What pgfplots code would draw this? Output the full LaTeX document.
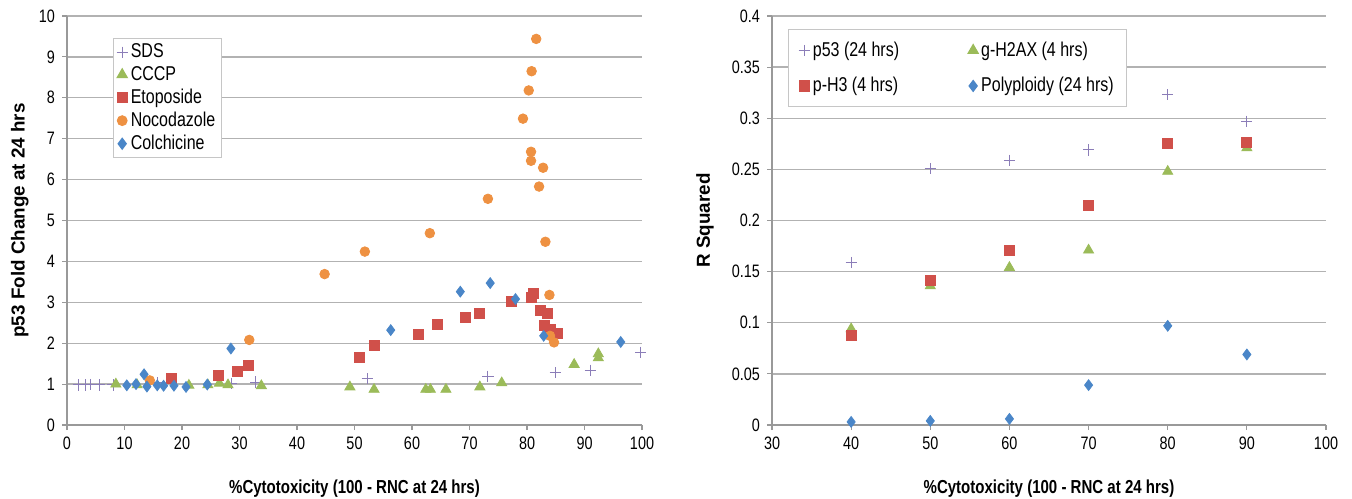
\documentclass[border=0pt]{standalone}
\usepackage{fontspec}
\setmainfont[FakeStretch=0.8]{Liberation Sans}
\newfontfamily\upfont{Liberation Sans}
\usepackage{pgfplots}
\pgfplotsset{compat=1.18}

\definecolor{sdsc}{HTML}{8B7DB8}
\definecolor{cccpc}{HTML}{9BBB59}
\definecolor{etoc}{HTML}{D0504A}
\definecolor{nococ}{HTML}{EE9142}
\definecolor{colchc}{HTML}{4A86C8}

\pgfplotsset{
  excel/.style={
    scale only axis,
    height=204.5pt,
    axis x line*=bottom,
    axis y line*=left,
    axis line style={draw=gray!80, line width=0.6pt, -},
    ymajorgrids=true,
    grid style={draw=gray!60, line width=0.7pt},
    tick align=outside,
    major tick length=2.5pt,
    tick style={draw=gray!80, line width=0.6pt},
    ticklabel style={font=\fontsize{9}{10}\selectfont},
    /pgf/number format/assume math mode=true,
    every axis x label/.style={at={(axis description cs:0.5,0)}, anchor=center, yshift=-32pt,
      font=\fontsize{9.4}{11}\selectfont\bfseries},
    only marks,
    clip=false,
    legend cell align=left,
    legend image code/.code={\draw[##1] plot coordinates {(0.1cm,0cm)};},
  },
  sds/.style={only marks, mark=+, mark size=2.8pt, color=sdsc, mark options={line width=0.5pt}},
  tri/.style={only marks, mark=triangle*, mark size=2.9pt, color=cccpc, mark options={draw=cccpc, fill=cccpc}},
  sq/.style={only marks, mark=square*, mark size=2.5pt, color=etoc, mark options={draw=etoc, fill=etoc}},
  circ/.style={only marks, mark=*, mark size=2.4pt, color=nococ, mark options={draw=nococ, fill=nococ}},
  dia/.style={only marks, mark=diamond*, mark size=2.7pt, color=colchc, mark options={draw=colchc, fill=colchc}},
}

\begin{document}
\begin{tikzpicture}
\useasboundingbox (0,0) rectangle (676pt,249pt);

% left panel
\begin{axis}[
    excel,
    at={(33.5pt,36.5pt)}, anchor=south west,
    width=287.5pt,
    xmin=0, xmax=100, ymin=0, ymax=10,
    xtick={0,10,...,100},
    ytick={0,1,...,10},
    xlabel={\%Cytotoxicity (100 - RNC at 24 hrs)},
    ylabel={p53 Fold Change at 24 hrs},
    every axis y label/.style={at={(axis description cs:-0.082,0.5)}, rotate=90, anchor=center,
      font=\upfont\fontsize{9.4}{11}\selectfont\bfseries},
    legend style={at={(rel axis cs:0.08,0.946)}, anchor=north west,
      draw=gray!45, line width=0.6pt, fill=white, inner xsep=1.5pt, inner ysep=0.5pt,
      font=\fontsize{10}{10}\selectfont, row sep=-1.2pt,
      nodes={inner xsep=1.5pt}},
]
\addplot[sds] coordinates {
  (2.0,0.98) (3.2,0.98) (4.0,0.99) (5.7,0.98) (8.0,0.98) (15.8,1.03)
  (28.6,1.02) (32.8,1.05) (52.2,1.13) (73.2,1.19) (84.9,1.28) (91.0,1.34) (99.8,1.78)
};
\addlegendentry{SDS}
\addplot[tri] coordinates {
  (8.5,1.0) (12.2,0.98) (21.2,0.97) (24.5,0.98) (26.5,1.02) (28.0,0.98) (33.8,0.96)
  (49.2,0.93) (53.4,0.87) (62.4,0.87) (63.2,0.87) (65.9,0.87) (71.8,0.93) (75.6,1.03)
  (88.2,1.48) (92.4,1.64) (92.4,1.74)
};
\addlegendentry{CCCP}
\addplot[sq] coordinates {
  (18.1,1.15) (26.3,1.21) (29.7,1.30) (31.5,1.45) (50.9,1.65) (53.4,1.94) (61.1,2.21)
  (64.5,2.47) (69.2,2.63) (71.8,2.74) (77.2,3.02) (80.7,3.12) (81.1,3.22) (82.3,2.81)
  (83.6,2.72) (83.1,2.44) (84.0,2.33) (85.2,2.24)
};
\addlegendentry{Etoposide}
\addplot[circ] coordinates {
  (14.4,1.09) (31.7,2.08) (44.8,3.69) (51.8,4.24) (63.1,4.69) (73.2,5.53) (79.3,7.49)
  (80.3,8.18) (80.8,8.65) (81.6,9.44) (80.7,6.68) (80.7,6.46) (82.8,6.29) (82.1,5.83)
  (83.2,4.48) (83.9,3.18) (84.0,2.18) (84.7,2.02)
};
\addlegendentry{Nocodazole}
\addplot[dia] coordinates {
  (10.4,0.97) (12.0,1.0) (13.4,1.24) (13.9,0.94) (15.7,0.97) (16.8,0.96) (18.6,0.96)
  (20.7,0.93) (24.4,0.99) (28.5,1.87) (56.3,2.32) (68.4,3.26) (73.6,3.47) (78.0,3.08)
  (82.9,2.18) (96.3,2.03)
};
\addlegendentry{Colchicine}
\end{axis}

% right panel
\begin{axis}[
    excel,
    at={(386pt,36.5pt)}, anchor=south west,
    width=277pt,
    xmin=30, xmax=100, ymin=0, ymax=0.4,
    xtick={30,40,...,100},
    ytick={0,0.05,0.1,0.15,0.2,0.25,0.3,0.35,0.4},
    yticklabels={0,0.05,0.1,0.15,0.2,0.25,0.3,0.35,0.4},
    xlabel={\%Cytotoxicity (100 - RNC at 24 hrs)},
    ylabel={R Squared},
    every axis y label/.style={at={(axis description cs:-0.121,0.5)}, rotate=90, anchor=center,
      font=\upfont\fontsize{9.4}{11}\selectfont\bfseries},
    legend columns=2,
    legend style={at={(rel axis cs:0.029,0.968)}, anchor=north west,
      draw=gray!45, line width=0.6pt, fill=white, inner xsep=5pt, inner ysep=4pt,
      font=\fontsize{10}{10}\selectfont, row sep=5pt,
      nodes={inner xsep=1.5pt},
      /tikz/every even column/.append style={column sep=33pt}},
]
\addplot[sds] coordinates {
  (40,0.159) (50,0.251) (60,0.259) (70,0.269) (80,0.323) (90,0.297)
};
\addlegendentry{p53 (24 hrs)}
\addplot[tri] coordinates {
  (40,0.094) (50,0.136) (60,0.154) (70,0.171) (80,0.248) (90,0.271)
};
\addlegendentry{g-H2AX (4 hrs)}
\addplot[sq] coordinates {
  (40,0.088) (50,0.141) (60,0.171) (70,0.215) (80,0.275) (90,0.276)
};
\addlegendentry{p-H3 (4 hrs)}
\addplot[dia] coordinates {
  (40,0.003) (50,0.004) (60,0.006) (70,0.039) (80,0.097) (90,0.069)
};
\addlegendentry{Polyploidy (24 hrs)}
\end{axis}
\end{tikzpicture}
\end{document}
